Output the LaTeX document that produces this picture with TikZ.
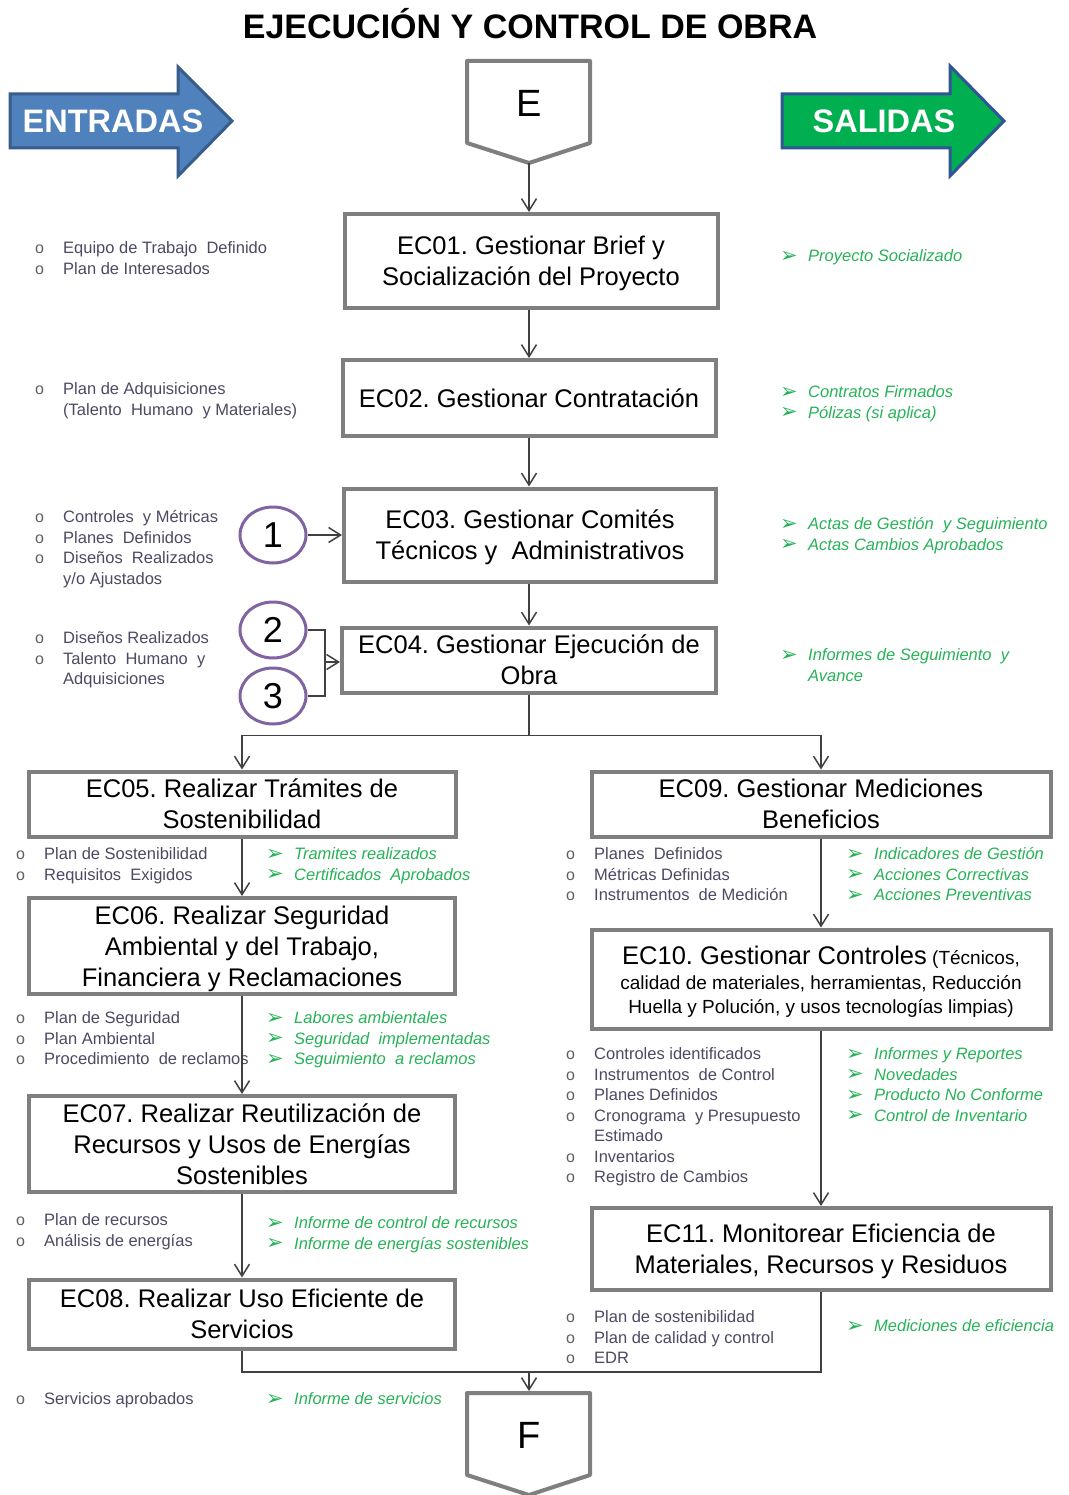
\documentclass[tikz,border=0pt]{standalone}
\usepackage{fontspec}
\setmainfont{Liberation Sans}
\newfontfamily\symfont{DejaVu Sans}
\usetikzlibrary{arrows.meta,shapes.geometric}
\frenchspacing

\definecolor{boxgray}{RGB}{127,127,127}
\definecolor{linegray}{RGB}{64,64,64}
\definecolor{intext}{RGB}{78,72,98}
\definecolor{bulletgray}{RGB}{95,95,95}
\definecolor{outgreen}{RGB}{38,178,86}
\definecolor{inblue}{RGB}{79,129,189}
\definecolor{inblueline}{RGB}{56,93,138}
\definecolor{outfill}{RGB}{0,176,80}
\definecolor{outline}{RGB}{47,85,151}
\definecolor{circpurple}{RGB}{128,100,162}

% list bullets
\newcommand{\bo}{\strut\makebox[28pt][l]{\fontsize{16}{16}\selectfont\color{bulletgray}o}}
\newcommand{\ba}{\strut\makebox[28pt][l]{\symfont\fontsize{21}{21}\selectfont\color{outgreen}\raisebox{-0.5pt}{➢}}}
\newcommand{\bc}{\strut\hspace*{28pt}}
% fixed top and bottom extents for box texts
\newcommand{\tl}{\rule{0pt}{26pt}}
\newcommand{\bl}{\rule[-8pt]{0pt}{8pt}}

\begin{document}
\begin{tikzpicture}[x=1pt,y=-1pt,
  stepbox/.style={draw=boxgray, line width=4pt, fill=white, inner sep=0pt,
    align=center, font=\fontsize{25.5}{31}\selectfont},
  pent/.style={draw=boxgray, line width=4pt, fill=white, line join=round},
  conn/.style={draw=linegray, line width=1.5pt, -{Straight Barb[length=12pt,width=15pt,line width=1.5pt]}},
  plain/.style={draw=linegray, line width=1.5pt},
  numcirc/.style={ellipse, draw=circpurple, line width=3pt, minimum width=66pt,
    minimum height=56pt, inner sep=0pt, font=\fontsize{36}{36}\selectfont},
  inlist/.style={anchor=north west, inner sep=0pt, align=left, text=intext,
    font=\fontsize{16.5}{20.5}\selectfont},
  outlist/.style={anchor=north west, inner sep=0pt, align=left, text=outgreen,
    font=\fontsize{16.5}{20.5}\selectfont\itshape},
  bigarrowtext/.style={text=white, font=\fontsize{32.5}{32.5}\selectfont\bfseries, inner sep=0pt}
]
\useasboundingbox (0,0) rectangle (1068,1495);

% title
\node[font=\fontsize{34}{34}\selectfont\bfseries, inner sep=0pt] (title) at (530,24) {EJECUCIÓN Y CONTROL DE OBRA};

% big arrows
\draw[fill=inblue, draw=inblueline, line width=3pt, line join=miter]
  (10,94) -- (178,94) -- (178,67) -- (232,121) -- (178,176) -- (178,148) -- (10,148) -- cycle;
\node[bigarrowtext] (entradas) at (113,121) {ENTRADAS};
\draw[fill=outfill, draw=outline, line width=3pt, line join=miter]
  (782,94) -- (950,94) -- (950,66) -- (1004,121) -- (950,176) -- (950,148) -- (782,148) -- cycle;
\node[bigarrowtext] (salidas) at (884,121) {SALIDAS};

% start and end markers
\draw[pent] (467,61) -- (590,61) -- (590,143) -- (529,163) -- (467,143) -- cycle;
\node[font=\fontsize{38}{38}\selectfont, inner sep=0pt] (E) at (529,103) {E};
\coordinate (Etip) at (529,163);
\draw[pent] (467,1393) -- (590,1393) -- (590,1475) -- (529,1495) -- (467,1475) -- cycle;
\node[font=\fontsize{38}{38}\selectfont, inner sep=0pt] (F) at (529,1435) {F};
\coordinate (Ftop) at (529,1391);
\coordinate (join) at (529,1372);

% process boxes
\node[stepbox, minimum width=373pt, minimum height=94pt] (EC01) at (531,261)
  {\tl EC01. Gestionar Brief y\\Socialización del Proyecto\bl};
\node[stepbox, minimum width=373pt, minimum height=76pt] (EC02) at (529,398)
  {\tl EC02. Gestionar Contratación\bl};
\node[stepbox, minimum width=372pt, minimum height=93pt] (EC03) at (530,535)
  {\tl EC03. Gestionar Comités\\Técnicos y \ Administrativos\bl};
\node[stepbox, minimum width=374pt, minimum height=61pt] (EC04) at (529,660)
  {\tl EC04. Gestionar Ejecución de\\Obra\bl};

\node[stepbox, minimum width=427pt, minimum height=58pt] (EC05) at (242,804)
  {\tl EC05. Realizar Trámites de\\Sostenibilidad\bl};
\node[stepbox, minimum width=426pt, minimum height=93pt] (EC06) at (242,946)
  {\tl EC06. Realizar Seguridad\\Ambiental y del Trabajo,\\Financiera y Reclamaciones\bl};
\node[stepbox, minimum width=426pt, minimum height=95pt] (EC07) at (242,1144)
  {\tl EC07. Realizar Reutilización de\\Recursos y Usos de Energías\\Sostenibles\bl};
\node[stepbox, minimum width=426pt, minimum height=69pt] (EC08) at (242,1314)
  {\tl EC08. Realizar Uso Eficiente de\\Servicios\bl};

\node[stepbox, minimum width=459pt, minimum height=58pt] (EC09) at (821,804)
  {\tl EC09. Gestionar Mediciones\\Beneficios\bl};
\node[stepbox, minimum width=459pt, minimum height=99pt, font=\fontsize{19}{24.5}\selectfont] (EC10) at (821,979)
  {\tl{\fontsize{25.5}{24.5}\selectfont EC10. Gestionar Controles} (Técnicos,\\calidad de materiales, herramientas, Reducción\\Huella y Polución, y usos tecnologías limpias)\rule[-6pt]{0pt}{6pt}};
\node[stepbox, minimum width=459pt, minimum height=82pt] (EC11) at (821,1249)
  {\tl EC11. Monitorear Eficiencia de\\Materiales, Recursos y Residuos\bl};

% numbered inputs
\node[numcirc] (c1) at (273,535) {1};
\node[numcirc] (c2) at (273,630) {2};
\node[numcirc] (c3) at (273,696) {3};
\coordinate (brk) at (325,662);

% inputs and outputs
\node[inlist] (in01) at (35,239) {\bo Equipo de Trabajo \ Definido\\\bo Plan de Interesados};
\node[outlist] (out01) at (780,247) {\ba Proyecto Socializado};

\node[inlist] (in02) at (35,380) {\bo Plan de Adquisiciones\\\bc (Talento \ Humano \ y Materiales)};
\node[outlist] (out02) at (780,383) {\ba Contratos Firmados\\\ba Pólizas (si aplica)};

\node[inlist] (in03) at (35,508) {\bo Controles \ y Métricas\\\bo Planes \ Definidos\\\bo Diseños \ Realizados\\\bc y/o Ajustados};
\node[outlist] (out03) at (780,515) {\ba Actas de Gestión \ y Seguimiento\\\ba Actas Cambios Aprobados};

\node[inlist] (in04) at (35,629) {\bo Diseños Realizados\\\bo Talento \ Humano \ y\\\bc Adquisiciones};
\node[outlist] (out04) at (780,646) {\ba Informes de Seguimiento \ y\\\bc Avance};

\node[inlist] (in05) at (16,845) {\bo Plan de Sostenibilidad\\\bo Requisitos \ Exigidos};
\node[outlist] (out05) at (266,845) {\ba Tramites realizados\\\ba Certificados \ Aprobados};

\node[inlist] (in06) at (16,1009) {\bo Plan de Seguridad\\\bo Plan Ambiental\\\bo Procedimiento \ de reclamos};
\node[outlist] (out06) at (266,1009) {\ba Labores ambientales\\\ba Seguridad \ implementadas\\\ba Seguimiento \ a reclamos};

\node[inlist] (in07) at (16,1211) {\bo Plan de recursos\\\bo Análisis de energías};
\node[outlist] (out07) at (266,1214) {\ba Informe de control de recursos\\\ba Informe de energías sostenibles};

\node[inlist] (in08) at (16,1390) {\bo Servicios aprobados};
\node[outlist] (out08) at (266,1390) {\ba Informe de servicios};

\node[inlist] (in09) at (566,845) {\bo Planes \ Definidos\\\bo Métricas Definidas\\\bo Instrumentos \ de Medición};
\node[outlist] (out09) at (846,845) {\ba Indicadores de Gestión\\\ba Acciones Correctivas\\\ba Acciones Preventivas};

\node[inlist] (in10) at (566,1045) {\bo Controles identificados\\\bo Instrumentos \ de Control\\\bo Planes Definidos\\\bo Cronograma \ y Presupuesto\\\bc Estimado\\\bo Inventarios\\\bo Registro de Cambios};
\node[outlist] (out10) at (846,1045) {\ba Informes y Reportes\\\ba Novedades\\\ba Producto No Conforme\\\ba Control de Inventario};

\node[inlist] (in11) at (566,1308) {\bo Plan de sostenibilidad\\\bo Plan de calidad y control\\\bo EDR};
\node[outlist] (out11) at (846,1317) {\ba Mediciones de eficiencia};

% connectors
\draw[conn] (Etip) -- (Etip |- EC01.north);
\draw[conn] (EC01.south -| EC02.north) -- (EC02.north);
\draw[conn] (EC02.south) -- (EC02.south |- EC03.north);
\draw[conn] (EC03.south -| EC04.north) -- (EC04.north);
\draw[conn] (c1.east) -- (EC03.west |- c1.east);
\draw[plain] (c2.east) -| (brk) |- (c3.east);
\draw[conn] (brk) -- (EC04.west |- brk);
\draw[conn] (EC04.south) -- ++(0,41) -| (EC05.north);
\draw[conn] (EC04.south) ++(0,41) -| (EC09.north);
\draw[conn] (EC05.south) -- (EC06.north);
\draw[conn] (EC06.south) -- (EC07.north);
\draw[conn] (EC07.south) -- (EC08.north);
\draw[conn] (EC09.south) -- (EC10.north);
\draw[conn] (EC10.south) -- (EC11.north);
\draw[plain] (EC11.south) |- (join);
\draw[conn] (EC08.south) |- (join) -- (Ftop);

\end{tikzpicture}
\end{document}
